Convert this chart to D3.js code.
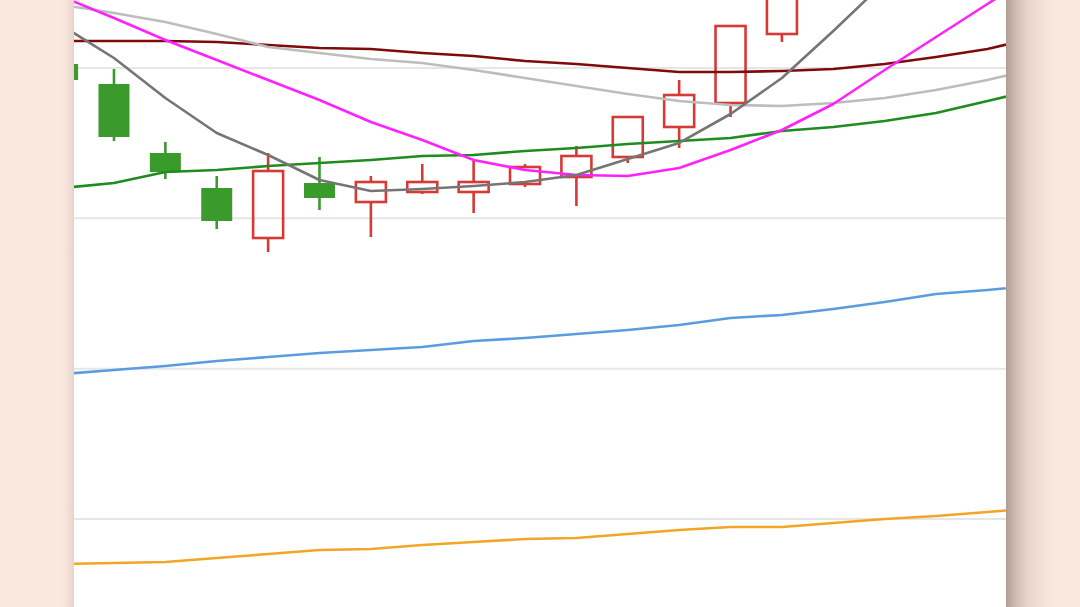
<!DOCTYPE html>
<html>
<head>
<meta charset="utf-8">
<script src="https://cdn.jsdelivr.net/npm/d3@7/dist/d3.min.js"></script>
<style>
  html, body { margin: 0; padding: 0; background: #fae8df; overflow: hidden; }
  svg { display: block; }
</style>
</head>
<body>
<svg id="chart" width="1080" height="607"></svg>
<script>
// ---------- data ----------
const categories = ["03-01","03-02","03-03","03-06","03-07","03-08","03-09","03-10","03-13","03-14",
                    "03-15","03-16","03-17","03-20","03-21","03-22","03-23","03-24","03-27","03-28"];

const openVals  = [12.0133,11.9468,11.7173,11.6009,11.4346,11.6175,11.5543,11.5876,11.5876,11.6142,11.6375,11.7040,11.8038,11.8836,12.1131];
const closeVals = [11.9601,11.7705,11.6541,11.4911,11.6574,11.5676,11.6208,11.6208,11.6208,11.6707,11.7073,11.8370,11.9102,12.1397,12.2395];
const highVals  = [12.0432,11.9967,11.7539,11.6408,11.7173,11.7040,11.6408,11.6807,11.6940,11.6807,11.7406,11.8370,11.9601,12.1397,12.2661];
const lowVals   = [11.9401,11.7572,11.6308,11.4645,11.3880,11.5277,11.4379,11.5809,11.5177,11.6042,11.5410,11.6840,11.7339,11.8370,12.0865];

const ma5   = [12.1397,12.0333,11.9002,11.7838,11.7106,11.6275,11.5909,11.5976,11.6075,11.6208,11.6441,11.6973,11.7506,11.8470,11.9667,12.1231,12.2860];
const ma10  = [12.2361,12.1663,12.0931,12.0266,11.9601,11.8936,11.8204,11.7605,11.6940,11.6608,11.6441,11.6408,11.6674,11.7273,11.7938,11.8803,11.9933,12.1031,12.2129,12.3226];
const ma20  = [12.2095,12.1829,12.1530,12.1131,12.0698,12.0499,12.0299,12.0166,11.9933,11.9667,11.9401,11.9135,11.8902,11.8769,11.8736,11.8836,11.9002,11.9268,11.9601,12.0000];
const ma30  = [12.0898,12.0898,12.0898,12.0865,12.0765,12.0665,12.0632,12.0499,12.0399,12.0233,12.0133,12.0000,11.9867,11.9867,11.9900,11.9967,12.0133,12.0366,12.0632,12.1031];
const ma60  = [11.6009,11.6175,11.6541,11.6608,11.6741,11.6840,11.6940,11.7073,11.7106,11.7240,11.7339,11.7472,11.7572,11.7672,11.7905,11.8038,11.8237,11.8503,11.8902,11.9302];
const ma120 = [10.9823,10.9956,11.0089,11.0255,11.0388,11.0521,11.0621,11.0721,11.0920,11.1020,11.1153,11.1286,11.1452,11.1685,11.1785,11.1985,11.2217,11.2483,11.2617,11.2783];
const ma250 = [10.3504,10.3537,10.3570,10.3703,10.3836,10.3969,10.4002,10.4135,10.4235,10.4335,10.4368,10.4501,10.4634,10.4734,10.4734,10.4867,10.5000,10.5100,10.5233,10.5366];

const gridVals = [12.0, 11.5, 11.0, 10.5];

// ---------- layout ----------
const W = 1080, H = 607;
const panelL = 74, panelR = 1006;
const svg = d3.select("#chart");

const x = d3.scalePoint().domain(categories).range([62.6, 62.6 + 19 * 51.38]);
const y = d3.scaleLinear().domain([12 + 68 / 300.67, 12 - 539 / 300.67]).range([0, H]);

const defs = svg.append("defs");
const gR = defs.append("linearGradient").attr("id", "shR").attr("x1", 0).attr("x2", 1).attr("y1", 0).attr("y2", 0);
gR.append("stop").attr("offset", 0).attr("stop-color", "#9a8179").attr("stop-opacity", 0.75);
gR.append("stop").attr("offset", 0.35).attr("stop-color", "#c9ada2").attr("stop-opacity", 0.35);
gR.append("stop").attr("offset", 1).attr("stop-color", "#fae8df").attr("stop-opacity", 0);
const gL = defs.append("linearGradient").attr("id", "shL").attr("x1", 0).attr("x2", 1).attr("y1", 0).attr("y2", 0);
gL.append("stop").attr("offset", 0).attr("stop-color", "#fae8df").attr("stop-opacity", 0);
gL.append("stop").attr("offset", 1).attr("stop-color", "#d9c4b8").attr("stop-opacity", 0.6);
defs.append("clipPath").attr("id", "clip").append("rect")
  .attr("x", panelL).attr("y", 0).attr("width", panelR - panelL).attr("height", H);

svg.append("rect").attr("width", W).attr("height", H).attr("fill", "#fae8df");
svg.append("rect").attr("x", 58).attr("y", 0).attr("width", panelL - 58).attr("height", H).attr("fill", "url(#shL)");
svg.append("rect").attr("x", panelR).attr("y", 0).attr("width", 60).attr("height", H).attr("fill", "url(#shR)");
svg.append("rect").attr("x", panelL).attr("y", 0).attr("width", panelR - panelL).attr("height", H).attr("fill", "#ffffff");

const plot = svg.append("g").attr("clip-path", "url(#clip)");

// grid
plot.append("g").selectAll("line").data(gridVals).join("line")
  .attr("x1", panelL).attr("x2", panelR)
  .attr("y1", d => y(d)).attr("y2", d => y(d))
  .attr("stroke", "#e6e6e6").attr("stroke-width", 2);

// candles
const red = "#d63a36", green = "#3a9a2c";
const candles = openVals.map((o, i) => ({
  cat: categories[i], o, c: closeVals[i], h: highVals[i], l: lowVals[i]
}));
const bw = 30;
const cg = plot.append("g");
candles.forEach(d => {
  const cx = x(d.cat);
  const up = d.c >= d.o;
  const top = y(Math.max(d.o, d.c)), bot = y(Math.min(d.o, d.c));
  const col = up ? red : green;
  cg.append("line").attr("x1", cx).attr("x2", cx).attr("y1", y(d.h)).attr("y2", top)
    .attr("stroke", col).attr("stroke-width", 2.6);
  cg.append("line").attr("x1", cx).attr("x2", cx).attr("y1", bot).attr("y2", y(d.l))
    .attr("stroke", col).attr("stroke-width", 2.6);
  if (up) {
    cg.append("rect").attr("x", cx - bw / 2).attr("y", top).attr("width", bw).attr("height", Math.max(1, bot - top))
      .attr("fill", "none").attr("stroke", col).attr("stroke-width", 2.6);
  } else {
    cg.append("rect").attr("x", cx - bw / 2 - 0.5).attr("y", top).attr("width", bw + 1).attr("height", Math.max(1, bot - top))
      .attr("fill", col);
  }
});

// moving-average lines
const series = [
  { vals: ma250, color: "#f2a626" },
  { vals: ma120, color: "#5b9be0" },
  { vals: ma60,  color: "#1f8c1f" },
  { vals: ma30,  color: "#7f0a0a" },
  { vals: ma20,  color: "#bdbdbd" },
  { vals: ma10,  color: "#ff22ff" },
  { vals: ma5,   color: "#757575" }
];
const line = d3.line().x(d => x(d.cat)).y(d => y(d.v));
series.forEach(s => {
  plot.append("path")
    .datum(s.vals.map((v, i) => ({ cat: categories[i], v })))
    .attr("d", line)
    .attr("fill", "none").attr("stroke", s.color).attr("stroke-width", 2.6)
    .attr("stroke-linejoin", "round");
});
</script>
</body>
</html>
